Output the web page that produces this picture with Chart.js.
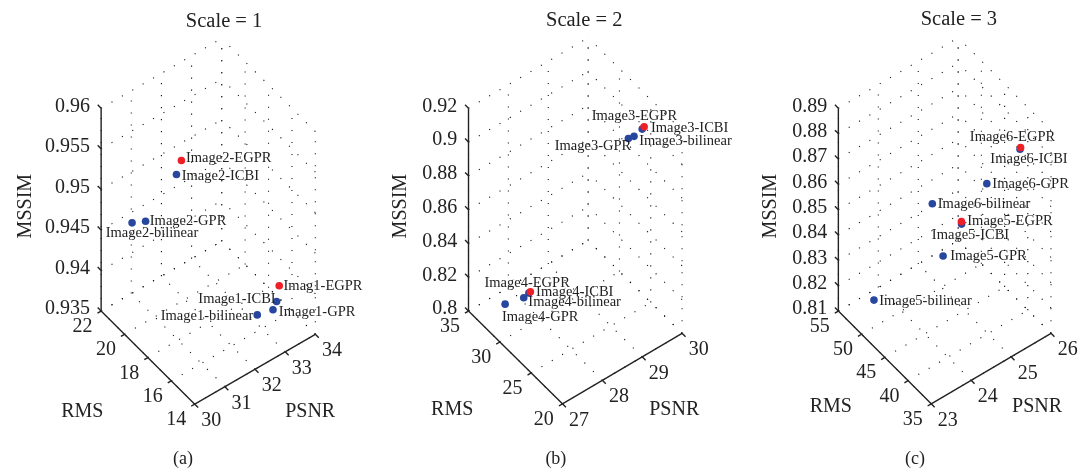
<!DOCTYPE html>
<html>
<head>
<meta charset="utf-8">
<title>MSSIM RMS PSNR</title>
<script src="https://cdn.jsdelivr.net/npm/chart.js@4"></script>
<style>
html,body{margin:0;padding:0;background:#fff;}
#page{position:relative;width:1086px;height:476px;overflow:hidden;}
canvas{position:absolute;top:0;}
</style>
</head>
<body>
<div id="page">
<canvas id="c1"></canvas>
<canvas id="c2"></canvas>
<canvas id="c3"></canvas>
</div>
<script>
// Scale = 1
var names1=["Image2-ICBI","Image2-GPR","Image2-bilinear","Image1-ICBI","Image1-GPR","Image1-bilinear","Image2-EGPR","Imag1-EGPR"];
var psnr1=[31.14,30.31,30.25,33.18,33.10,32.85,31.11,33.19];
var rms1=[18.5,19,20,15.2,15.3,16,18,15];
var mssim1=[0.9544,0.9497,0.9482,0.9391,0.9381,0.9370,0.9569,0.9413];
var psnrTicks1=[30,31,32,33,34];
var rmsTicks1=[14,16,18,20,22];
var mssimTicks1=[0.935,0.94,0.945,0.95,0.955,0.96];

// Scale = 2
var names2=["Image3-ICBI","Image3-bilinear","Image3-GPR","Image4-ICBI","Image4-bilinear","Image4-GPR","Image3-EGPR","Image4-EGPR"];
var psnr2=[29.55,29.58,29.36,27.65,27.60,27.29,29.52,27.61];
var rms2=[23.5,25,24.5,29.5,30,31,23,29];
var mssim2=[0.9143,0.9041,0.9077,0.8218,0.8178,0.8147,0.9179,0.8249];
var psnrTicks2=[27,28,29,30];
var rmsTicks2=[20,25,30,35];
var mssimTicks2=[0.8,0.82,0.84,0.86,0.88,0.9,0.92];

// Scale = 3
var names3=["Image6-ICBI","Image6-GPR","Image6-bilinear","Image5-ICBI","Image5-GPR","Image5-bilinear","Image6-EGPR","Image5-EGPR"];
var psnr3=[25.69,25.09,24.19,24.69,24.46,23.31,25.82,24.57];
var rms3=[39,41,45,43,45,50,40,42];
var mssim3=[0.8782,0.8665,0.8596,0.8506,0.8365,0.8206,0.8758,0.8545];
var psnrTicks3=[23,24,25,26];
var rmsTicks3=[35,40,45,50,55];
var mssimTicks3=[0.81,0.82,0.83,0.84,0.85,0.86,0.87,0.88,0.89];

// where each point's label starts, relative to the point
var labelShift1=[[5.4,1.3],[4.3,-0.4],[-27,11],[-80,-2],[6,2],[-98.7,1],[4.7,-2],[4.4,0.6]];
var labelShift2=[[9,-1.3],[5.3,5],[-75.3,8.3],[7.4,-0.7],[4.7,4.7],[-3.3,13.4],[-53.6,-10.3],[-47,-9]];
var labelShift3=[[-30.4,10],[5.6,0.6],[5.6,0.4],[-30.4,11.7],[7.3,0],[5.3,1.4],[-52,-10.7],[6,-0.6]];

var SERIF='"Liberation Serif", serif';
var INK="#222";
var BLUE="#27479f";
var RED="#ee1f26";

// layout of each box on the page: the bottom corner and the three axis directions
var panels=[
  {left:0,width:366,title:"Scale = 1",titleX:225,titleY:18,caption:"(a)",captionX:183,
   ox:195,oy:407,rx:-95.7,ry:-94.7,px:123.3,py:-71,h:206.3,
   rmsLabelX:80,rmsLabelY:415,psnrLabelX:313,psnrLabelY:415,mssimLabelX:22,
   names:names1,psnr:psnr1,rms:rms1,mssim:mssim1,shift:labelShift1,
   psnrTicks:psnrTicks1,rmsTicks:rmsTicks1,mssimTicks:mssimTicks1},
  {left:366,width:368,title:"Scale = 2",titleX:585,titleY:17,caption:"(b)",captionX:556,
   ox:562.7,oy:406.7,rx:-96,ry:-94.4,px:122.3,py:-71.7,h:206.3,
   rmsLabelX:450,rmsLabelY:413,psnrLabelX:677,psnrLabelY:413,mssimLabelX:397,
   names:names2,psnr:psnr2,rms:rms2,mssim:mssim2,shift:labelShift2,
   psnrTicks:psnrTicks2,rmsTicks:rmsTicks2,mssimTicks:mssimTicks2},
  {left:734,width:352,title:"Scale = 3",titleX:960,titleY:16,caption:"(c)",captionX:915,
   ox:931.7,oy:406.7,rx:-95,ry:-94.4,px:122.6,py:-71.7,h:206.3,
   rmsLabelX:829,rmsLabelY:410,psnrLabelX:1040,psnrLabelY:410,mssimLabelX:767.3,
   names:names3,psnr:psnr3,rms:rms3,mssim:mssim3,shift:labelShift3,
   psnrTicks:psnrTicks3,rmsTicks:rmsTicks3,mssimTicks:mssimTicks3}
];

function first(a){return a[0];}
function last(a){return a[a.length-1];}

// 3d value -> plane of the chart
function project(p,psnr,rms,mssim){
  var v=(psnr-first(p.psnrTicks))/(last(p.psnrTicks)-first(p.psnrTicks));
  var u=(rms-first(p.rmsTicks))/(last(p.rmsTicks)-first(p.rmsTicks));
  var w=(mssim-first(p.mssimTicks))/(last(p.mssimTicks)-first(p.mssimTicks));
  return {x:p.ox+u*p.rx+v*p.px,y:p.oy+u*p.ry+v*p.py-w*p.h};
}

function solidLine(pts){
  return {showLine:true,data:pts,pointRadius:0,borderColor:"#222",borderWidth:1.4,clip:false};
}
function dottedLine(pts){
  return {showLine:true,data:pts,pointRadius:0,borderColor:"#111",borderWidth:1.1,borderDash:[1.1,10.9],clip:false};
}

function buildDatasets(p){
  var Pa=first(p.psnrTicks),Pb=last(p.psnrTicks);
  var Ra=first(p.rmsTicks),Rb=last(p.rmsTicks);
  var Ma=first(p.mssimTicks),Mb=last(p.mssimTicks);
  var P=function(a,b,c){return project(p,a,b,c);};
  var red=[],blue=[];
  p.names.forEach(function(n,i){
    var pt=P(p.psnr[i],p.rms[i],p.mssim[i]);
    if(n.indexOf("EGPR")>=0) red.push(pt); else blue.push(pt);
  });
  var sets=[
    {data:red,pointRadius:3.8,pointBackgroundColor:RED,pointBorderWidth:0,clip:false},
    {data:blue,pointRadius:3.8,pointBackgroundColor:BLUE,pointBorderWidth:0,clip:false}
  ];
  // axes
  sets.push(solidLine([P(Pa,Rb,Mb),P(Pa,Rb,Ma)]));
  sets.push(solidLine([P(Pa,Rb,Ma),P(Pa,Ra,Ma)]));
  sets.push(solidLine([P(Pa,Ra,Ma),P(Pb,Ra,Ma)]));
  // tick marks
  var dR=(Rb-Ra)*0.037,dP=(Pb-Pa)*0.03;
  p.mssimTicks.forEach(function(t){sets.push(solidLine([P(Pa,Rb,t),P(Pa,Rb+dR,t)]));});
  p.psnrTicks.forEach(function(t){sets.push(solidLine([P(t,Ra,Ma),P(t,Ra-dR,Ma)]));});
  p.rmsTicks.forEach(function(t){sets.push(solidLine([P(Pa,t,Ma),P(Pa-dP,t,Ma)]));});
  // dotted grid on the floor and the two back walls, each piece on its own so
  // the shared back edge keeps one dot rhythm
  p.psnrTicks.forEach(function(t){
    sets.push(dottedLine([P(t,Ra,Ma),P(t,Rb,Ma)]));
    sets.push(dottedLine([P(t,Rb,Ma),P(t,Rb,Mb)]));
  });
  p.rmsTicks.forEach(function(t){
    sets.push(dottedLine([P(Pa,t,Ma),P(Pb,t,Ma)]));
    sets.push(dottedLine([P(Pb,t,Ma),P(Pb,t,Mb)]));
  });
  p.mssimTicks.forEach(function(t){
    sets.push(dottedLine([P(Pa,Rb,t),P(Pb,Rb,t)]));
    sets.push(dottedLine([P(Pb,Ra,t),P(Pb,Rb,t)]));
  });
  return sets;
}

// tick labels, axis names, point names, title and caption
var textPlugin={
  id:"panelText",
  afterDatasetsDraw:function(chart,args,opts){
    var p=opts.panel,ctx=chart.ctx,sx=chart.scales.x,sy=chart.scales.y;
    var put=function(s,x,y,font,align){
      ctx.font=font;ctx.textAlign=align||"center";ctx.textBaseline="middle";
      ctx.fillStyle=INK;
      ctx.fillText(s,sx.getPixelForValue(x),sy.getPixelForValue(y));
    };
    var big="20px "+SERIF,small="14.5px "+SERIF;
    var Pa=first(p.psnrTicks),Ra=first(p.rmsTicks),Rb=last(p.rmsTicks),Ma=first(p.mssimTicks);
    ctx.save();
    p.mssimTicks.forEach(function(t){
      var q=project(p,Pa,Rb,t);
      put(String(t),q.x-11.5,q.y-2,big,"right");
    });
    p.rmsTicks.forEach(function(t){
      var q=project(p,Pa,t,Ma);
      put(String(t),q.x-19,q.y+16,big);
    });
    p.psnrTicks.forEach(function(t){
      var q=project(p,t,Ra,Ma);
      put(String(t),q.x+17,q.y+17,big);
    });
    put("RMS",p.rmsLabelX,p.rmsLabelY,big);
    put("PSNR",p.psnrLabelX,p.psnrLabelY,big);
    put(p.title,p.titleX,p.titleY,"20.5px "+SERIF);
    put(p.caption,p.captionX,463,"18px "+SERIF);
    p.names.forEach(function(n,i){
      var q=project(p,p.psnr[i],p.rms[i],p.mssim[i]);
      put(n,q.x+p.shift[i][0],q.y+p.shift[i][1],small,"left");
    });
    ctx.translate(sx.getPixelForValue(p.mssimLabelX),sy.getPixelForValue(205.6));
    ctx.rotate(-Math.PI/2);
    ctx.font=big;ctx.textAlign="center";ctx.textBaseline="middle";ctx.fillStyle=INK;
    ctx.fillText("MSSIM",0,0);
    ctx.restore();
  }
};

panels.forEach(function(p,i){
  var cv=document.getElementById("c"+(i+1));
  cv.style.left=p.left+"px";
  cv.style.width=p.width+"px";
  cv.style.height="476px";
  cv.width=p.width;
  cv.height=476;
  new Chart(cv.getContext("2d"),{
    type:"scatter",
    data:{datasets:buildDatasets(p)},
    plugins:[textPlugin],
    options:{
      responsive:false,
      animation:false,
      layout:{padding:0},
      plugins:{legend:{display:false},tooltip:{enabled:false},panelText:{panel:p}},
      scales:{
        x:{type:"linear",display:false,bounds:"data",suggestedMin:p.left,suggestedMax:p.left+p.width},
        y:{type:"linear",display:false,bounds:"data",reverse:true,suggestedMin:0,suggestedMax:476}
      }
    }
  });
});
</script>
</body>
</html>
